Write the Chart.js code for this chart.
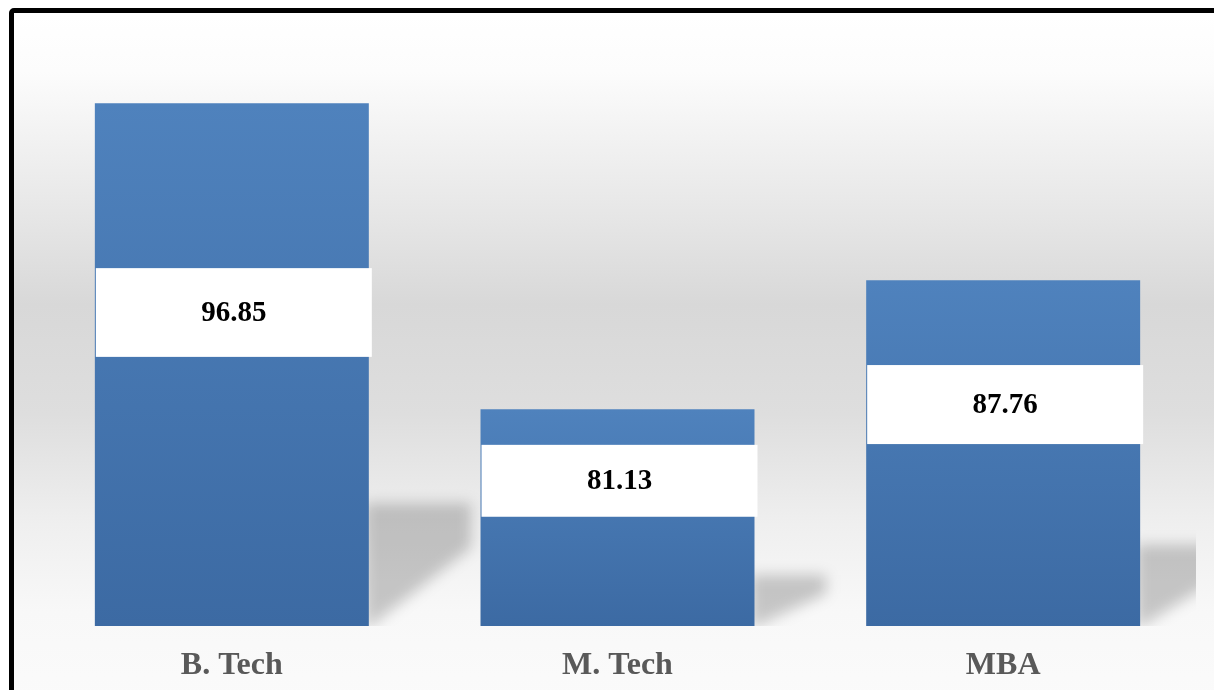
<!DOCTYPE html>
<html lang="en">
<head>
  <meta charset="UTF-8">
  <title>Programme scores</title>
  <script src="https://cdn.jsdelivr.net/npm/chart.js"></script>
  <style>
    * { box-sizing: border-box; }
    html, body { margin: 0; width: 1214px; height: 690px; overflow: hidden; background: #fff; }
    .frame {
      position: absolute; left: 9px; top: 8px; width: 1260px; height: 740px;
      border: 5px solid #000; border-radius: 5px 0 0 0;
      background: linear-gradient(to bottom, #ffffff 0%, #fcfcfc 8%, #e6e6e6 28%, #d8d8d8 40%, #dedede 55%, #efefef 70%, #f8f8f8 82%, #fcfcfc 100%);
    }
    /* a bit taller than the window so the x labels sit near the bottom edge */
    .wrap { position: absolute; left: 0; top: 0; width: 1214px; height: 708px; }
  </style>
</head>
<body>
  <div class="frame"></div>
  <div class="wrap"><canvas id="chart"></canvas></div>

  <script>
    const categories = ['B. Tech', 'M. Tech', 'MBA'];
    const scores = [96.85, 81.13, 87.76];
    const axisMin = 70;
    const axisMax = 100;

    const serif = '"Liberation Serif", "Times New Roman", serif';

    // blurred floor shadow to the right of each bar (axis starts at 70, so use the chart bottom as base)
    const shadowPlugin = {
      id: 'floorShadow',
      beforeDatasetsDraw(chart) {
        const ctx = chart.ctx, area = chart.chartArea;
        const base = area.bottom;
        ctx.save();
        ctx.beginPath();
        ctx.rect(area.left, area.top, area.right - area.left, area.bottom - area.top);
        ctx.clip();
        ctx.filter = 'blur(7px)';
        ctx.fillStyle = 'rgba(0,0,0,0.2)';
        chart.getDatasetMeta(0).data.forEach(bar => {
          const h = base - bar.y;
          const right = bar.x + bar.width / 2;
          const top = base - h * 0.235;
          const d = 50 + h * 0.1;
          ctx.beginPath();
          ctx.moveTo(right - 4, top);
          ctx.lineTo(right + d, top);
          ctx.lineTo(right + d, base - h * 0.15);
          ctx.lineTo(right + 2, base);
          ctx.lineTo(right - 4, base);
          ctx.closePath();
          ctx.fill();
        });
        ctx.restore();
      }
    };

    // white value boxes inside the bars
    const valueBoxPlugin = {
      id: 'valueBoxes',
      afterDatasetsDraw(chart) {
        const ctx = chart.ctx;
        const base = chart.chartArea.bottom;
        ctx.save();
        chart.getDatasetMeta(0).data.forEach((bar, i) => {
          const h = base - bar.y;
          const boxH = 60 + h * 0.055;
          const cy = bar.y + h * (0.28 + h * 0.00023);
          const left = bar.x - bar.width / 2 + 1;
          ctx.fillStyle = '#ffffff';
          ctx.fillRect(left, cy - boxH / 2, bar.width + 2, boxH);
          ctx.fillStyle = '#000000';
          ctx.font = 'bold 29px ' + serif;
          ctx.textAlign = 'center';
          ctx.textBaseline = 'middle';
          ctx.fillText(scores[i].toFixed(2), left + (bar.width + 2) / 2, cy + 1);
        });
        ctx.restore();
      }
    };

    new Chart(document.getElementById('chart'), {
      type: 'bar',
      data: {
        labels: categories,
        datasets: [{
          data: scores,
          backgroundColor: c => {
            const chart = c.chart;
            if (!chart.chartArea || !chart.scales.y) return '#4a7bb7';
            const top = chart.scales.y.getPixelForValue(c.raw);
            const g = chart.ctx.createLinearGradient(0, top, 0, chart.chartArea.bottom);
            g.addColorStop(0, '#4f82bd');
            g.addColorStop(1, '#3c6aa3');
            return g;
          },
          borderWidth: 0,
          barPercentage: 0.8,
          categoryPercentage: 0.888
        }]
      },
      options: {
        responsive: true,
        maintainAspectRatio: false,
        animation: false,
        layout: { padding: { left: 39, right: 18, top: 42, bottom: 10 } },
        plugins: { legend: { display: false }, tooltip: { enabled: false } },
        scales: {
          y: { display: false, min: axisMin, max: axisMax },
          x: {
            grid: { display: false },
            border: { display: false },
            ticks: {
              color: '#595959',
              padding: 16,
              font: { family: serif, size: 32, weight: 'bold', lineHeight: 1 }
            }
          }
        }
      },
      plugins: [shadowPlugin, valueBoxPlugin]
    });
  </script>
</body>
</html>
